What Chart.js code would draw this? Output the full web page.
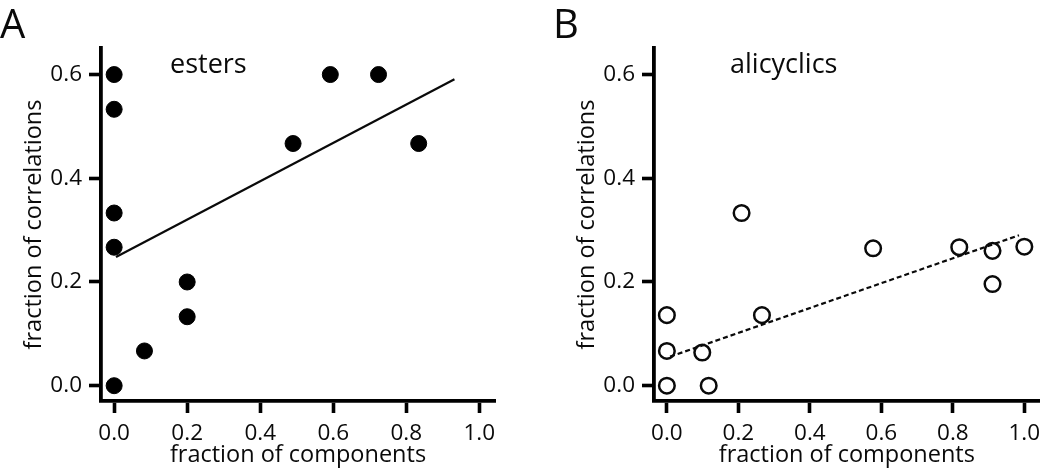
<!DOCTYPE html>
<html>
<head>
<meta charset="utf-8">
<script src="https://cdn.jsdelivr.net/npm/chart.js@4.4.1/dist/chart.umd.min.js"></script>
<style>
	html, body { margin:0; padding:0; background:#fff; }
	body { position:relative; width:1050px; height:471px; overflow:hidden; font-family:'Open Sans', sans-serif; color:#0a0a0a; }
	canvas { position:absolute; top:0; }
	.label { position:absolute; line-height:1; white-space:nowrap; }
	.panel { font-size:40px; }
	.group { font-size:27px; }
</style>
</head>
<body>
<canvas id='chart_a' width='540' height='471' style='left:0'></canvas>
<canvas id='chart_b' width='497' height='471' style='left:553px'></canvas>
<div class='label panel' style='left:0;top:3px'>A</div>
<div class='label panel' style='left:553px;top:3px'>B</div>
<div class='label group' style='left:170px;top:49px'>esters</div>
<div class='label group' style='left:730px;top:49px'>alicyclics</div>
<script>
const xTicks = [0, 0.2, 0.4, 0.6, 0.8, 1.0]
const yTicks = [0, 0.2, 0.4, 0.6]

const estersX = [0, 0, 0, 0, 0, 0.083, 0.2, 0.2, 0.49, 0.592, 0.724, 0.834]
const estersY = [0.6, 0.533, 0.333, 0.267, 0, 0.067, 0.2, 0.133, 0.467, 0.6, 0.6, 0.467]
const estersFitX = [0.005, 0.932]
const estersFitY = [0.248, 0.591]

const alicyclicsX = [0, 0, 0, 0.099, 0.117, 0.209, 0.266, 0.577, 0.818, 0.911, 0.911, 1.0]
const alicyclicsY = [0.136, 0.067, 0, 0.064, 0, 0.333, 0.136, 0.265, 0.267, 0.26, 0.196, 0.268]
const alicyclicsFitX = [0.009, 0.985]
const alicyclicsFitY = [0.056, 0.29]


function toPoints(xs, ys){
	return xs.map((x, i) => ({ x, y:ys[i] }))
}

const ink = '#0a0a0a'
const tickFont = { family:"'Open Sans', sans-serif", size:22.5 }
const titleFont = { family:"'Open Sans', sans-serif", size:23.5, lineHeight:1.2 }

function axis(ticks, min, max, title, extra){
	return {
		type:'linear',
		min, max,
		afterBuildTicks: scale => { scale.ticks = ticks.map(value => ({ value })) },
		border:{ display:true, color:'#000', width:3.8 },
		grid:{ display:true, drawOnChartArea:false, drawTicks:true, tickLength:12, tickWidth:3.6, tickColor:'#000' },
		ticks:{ color:ink, font:tickFont, padding:7, callback: v => v.toFixed(1) },
		title:{ display:true, text:title, color:ink, font:titleFont, ...extra }
	}
}

function makeChart(id, points, fit, padRight){
	new Chart(document.getElementById(id), {
		type:'scatter',
		data:{ datasets:[points, fit] },
		options:{
			responsive:false,
			animation:false,
			layout:{ padding:{ top:48, right:padRight, bottom:0, left:0 } },
			plugins:{ legend:{ display:false }, tooltip:{ enabled:false } },
			scales:{
				x:{ ...axis(xTicks, -0.036, 1.043, 'fraction of components', { padding:{ top:0, bottom:2 } }), afterFit: s => { s.height = 70 } },
				y:{ ...axis(yTicks, -0.0295, 0.6512, 'fraction of correlations', { padding:{ top:20, bottom:0 } }), afterFit: s => { s.width = 101 } }
			}
		}
	})
}

makeChart('chart_a', {
	data:toPoints(estersX, estersY),
	backgroundColor:'#000',
	borderColor:'#000',
	borderWidth:1,
	pointRadius:8
}, {
	type:'line',
	showLine:true,
	data:toPoints(estersFitX, estersFitY),
	borderColor:ink,
	borderWidth:2.2,
	pointRadius:0,
	fill:false
}, 45)

makeChart('chart_b', {
	data:toPoints(alicyclicsX, alicyclicsY),
	backgroundColor:'rgba(255,255,255,0)',
	borderColor:ink,
	borderWidth:2.5,
	pointRadius:7.8
}, {
	type:'line',
	showLine:true,
	data:toPoints(alicyclicsFitX, alicyclicsFitY),
	borderColor:ink,
	borderWidth:2.2,
	borderDash:[5, 3],
	pointRadius:0,
	fill:false
}, 3)
</script>
</body>
</html>
